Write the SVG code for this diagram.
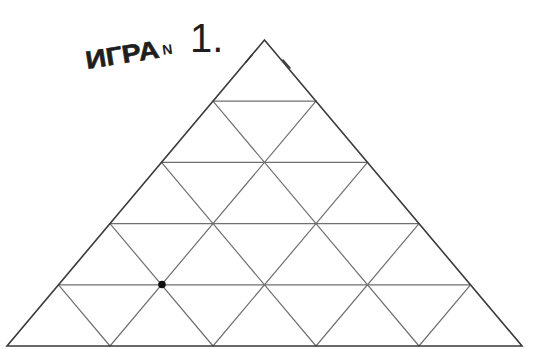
<svg xmlns="http://www.w3.org/2000/svg" width="535" height="349" viewBox="0 0 535 349">
<style>
.edge{stroke:#3a3a3a;stroke-width:1.6;fill:none;stroke-linecap:round}
.grid{stroke:#707070;stroke-width:1.2;fill:none;stroke-linecap:round}
.hand{font-family:"Liberation Sans","DejaVu Sans",sans-serif;fill:#1e1e1e}
</style>
<rect width="535" height="349" fill="#ffffff"/>
<g id="grid">
<line class="grid" x1="213" y1="101.2" x2="316" y2="101.2"/>
<line class="grid" x1="161.5" y1="162.4" x2="367.5" y2="162.4"/>
<line class="grid" x1="110" y1="223.6" x2="419" y2="223.6"/>
<line class="grid" x1="58.5" y1="284.8" x2="470.5" y2="284.8"/>
<line class="grid" x1="110" y1="346" x2="316" y2="101.2"/>
<line class="grid" x1="213" y1="346" x2="367.5" y2="162.4"/>
<line class="grid" x1="316" y1="346" x2="419" y2="223.6"/>
<line class="grid" x1="419" y1="346" x2="470.5" y2="284.8"/>
<line class="grid" x1="419" y1="346" x2="213" y2="101.2"/>
<line class="grid" x1="316" y1="346" x2="161.5" y2="162.4"/>
<line class="grid" x1="213" y1="346" x2="110" y2="223.6"/>
<line class="grid" x1="110" y1="346" x2="58.5" y2="284.8"/>
</g>
<g id="triangle">
<path class="edge" d="M264.5 40 L522 346 L7 346 Z"/>
<line class="edge" x1="246" y1="62" x2="252" y2="55" stroke-width="2.6"/>
<line class="edge" x1="283" y1="60" x2="290" y2="68" stroke-width="2.6"/>
</g>
<g id="dot">
<circle cx="162" cy="284.5" r="3.8" fill="#111"/>
</g>
<g id="title">
<text class="hand" x="87" y="69" font-size="25" font-weight="bold" stroke="#1e1e1e" stroke-width="0.6" textLength="74" lengthAdjust="spacingAndGlyphs" transform="rotate(-9 87 69)">ИГРА</text>
<text class="hand" x="163" y="55" font-size="14" font-weight="bold" transform="rotate(-8 163 55)">N</text>
<text class="hand" x="190" y="52" font-size="40">1.</text>
</g>
</svg>
